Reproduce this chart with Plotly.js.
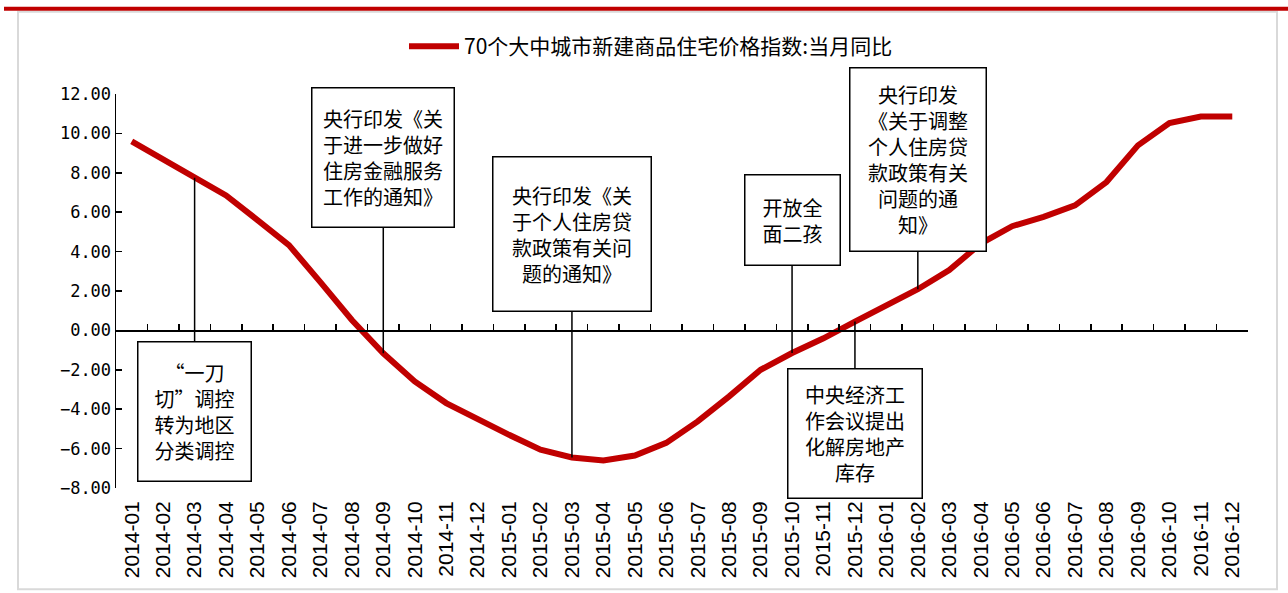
<!DOCTYPE html>
<html>
<head>
<meta charset="utf-8">
<script src="https://cdn.plot.ly/plotly-3.0.1.min.js"></script>
<style>
  html, body { margin: 0; padding: 0; background: #ffffff; }
  #chart { width: 1288px; height: 593px; }
</style>
</head>
<body>
<div id="chart"></div>
<script>
// 70个大中城市新建商品住宅价格指数：当月同比（%）
const months = [
  '2014-01','2014-02','2014-03','2014-04','2014-05','2014-06',
  '2014-07','2014-08','2014-09','2014-10','2014-11','2014-12',
  '2015-01','2015-02','2015-03','2015-04','2015-05','2015-06',
  '2015-07','2015-08','2015-09','2015-10','2015-11','2015-12',
  '2016-01','2016-02','2016-03','2016-04','2016-05','2016-06',
  '2016-07','2016-08','2016-09','2016-10','2016-11','2016-12'
];
const yoy = [
  9.60, 8.70, 7.75, 6.85, 5.60, 4.33,
  2.45, 0.53, -1.16, -2.59, -3.69, -4.53,
  -5.30, -6.05, -6.45, -6.60, -6.35, -5.71,
  -4.62, -3.35, -2.00, -1.15, -0.40, 0.45,
  1.29, 2.09, 3.06, 4.41, 5.29, 5.76,
  6.35, 7.53, 9.39, 10.52, 10.86, 10.86
];
const seriesName = '70个大中城市新建商品住宅价格指数:当月同比';
const yTicks = [12, 10, 8, 6, 4, 2, 0, -2, -4, -6, -8];

// Policy events: month, label text, box size and offset (px)
const eventMonths = ['2014-03', '2014-09', '2015-03', '2015-10', '2015-12', '2016-02'];
const eventTexts = [
  '“一刀<br>切”调控<br>转为地区<br>分类调控',
  '央行印发《关<br>于进一步做好<br>住房金融服务<br>工作的通知》',
  '央行印发《关<br>于个人住房贷<br>款政策有关问<br>题的通知》',
  '开放全<br>面二孩',
  '中央经济工<br>作会议提出<br>化解房地产<br>库存',
  '央行印发<br>《关于调整<br>个人住房贷<br>款政策有关<br>问题的通<br>知》'
];
const boxW = [112, 141, 157, 94, 133, 135];
const boxH = [138, 138, 153, 89, 128, 182];
const boxDy = [234, -196, -223, -133, 112, -130];

// plot area geometry (px)
const W = 1288, H = 593;
const mL = 116, mR = 40, mT = 93.5, mB = 104.5;
const pw = W - mL - mR, ph = H - mT - mB;
const px = v => (v - mL) / pw;
const py = v => (H - mB - v) / ph;

const cjk = '"Noto Sans CJK SC", "Noto Sans CJK JP", sans-serif';

const traces = [
  {
    type: 'scatter', mode: 'lines',
    x: months, y: yoy, name: seriesName,
    xaxis: 'x', yaxis: 'y',
    line: { color: '#C00000', width: 6 },
    hoverinfo: 'skip'
  },
  {
    type: 'scatter', mode: 'lines',
    x: months, y: yoy, xaxis: 'x2', yaxis: 'y',
    line: { color: 'rgba(0,0,0,0)', width: 0 },
    showlegend: false, hoverinfo: 'skip'
  }
];

const annotations = eventMonths.map((m, i) => ({
  x: m, y: yoy[months.indexOf(m)], xref: 'x', yref: 'y',
  text: eventTexts[i],
  showarrow: true, arrowhead: 0, arrowwidth: 1.5, arrowcolor: '#000000',
  ax: 0, ay: boxDy[i], standoff: 0,
  width: boxW[i], height: boxH[i],
  bordercolor: '#000000', borderwidth: 1.5, borderpad: 0,
  bgcolor: '#ffffff', align: 'center', valign: 'middle',
  font: { family: cjk, size: 20, color: '#000000' }
}));

const layout = {
  width: W, height: H,
  margin: { l: mL, r: mR, t: mT, b: mB, pad: 0 },
  paper_bgcolor: '#ffffff', plot_bgcolor: 'rgba(0,0,0,0)',
  showlegend: true,
  legend: {
    orientation: 'h', x: px(651), xanchor: 'center', y: py(46), yanchor: 'middle',
    font: { family: cjk, size: 21, color: '#000000' },
    bgcolor: 'rgba(0,0,0,0)', itemwidth: 50
  },
  xaxis: {
    type: 'category', categoryorder: 'array', categoryarray: months,
    range: [-0.5, months.length - 0.5],
    showline: false, showgrid: false, zeroline: false,
    ticks: '', tickangle: -90, ticklabelstandoff: 8,
    tickfont: { family: 'Liberation Sans, Arial, sans-serif', size: 21, color: '#000000' }
  },
  xaxis2: {
    type: 'category', categoryorder: 'array', categoryarray: months,
    range: [-0.5, months.length - 0.5],
    overlaying: 'x', anchor: 'free', position: 8 / 20,
    showline: true, linecolor: '#000000', linewidth: 1.5,
    ticks: 'inside', tickson: 'boundaries', ticklen: 6, tickwidth: 1.5, tickcolor: '#000000',
    showticklabels: false, showgrid: false, zeroline: false
  },
  yaxis: {
    range: [-8, 12], tickvals: yTicks, tickformat: '.2f',
    showline: true, linecolor: '#000000', linewidth: 1.5,
    ticks: 'inside', ticklen: 6, tickwidth: 1.5, tickcolor: '#000000',
    showgrid: false, zeroline: false,
    tickfont: { family: '"DejaVu Sans Mono", monospace', size: 17, color: '#000000' }
  },
  shapes: [
    { type: 'rect', xref: 'paper', yref: 'paper',
      x0: px(18), x1: px(1277), y0: py(590), y1: py(11),
      line: { color: '#d9d9d9', width: 2 }, layer: 'below' },
    { type: 'line', xref: 'paper', yref: 'paper',
      x0: px(4), x1: px(1288), y0: py(8), y1: py(8),
      line: { color: '#C00000', width: 4 } }
  ],
  annotations: annotations
};

Plotly.newPlot('chart', traces, layout, { displayModeBar: false, staticPlot: true });
</script>
</body>
</html>
